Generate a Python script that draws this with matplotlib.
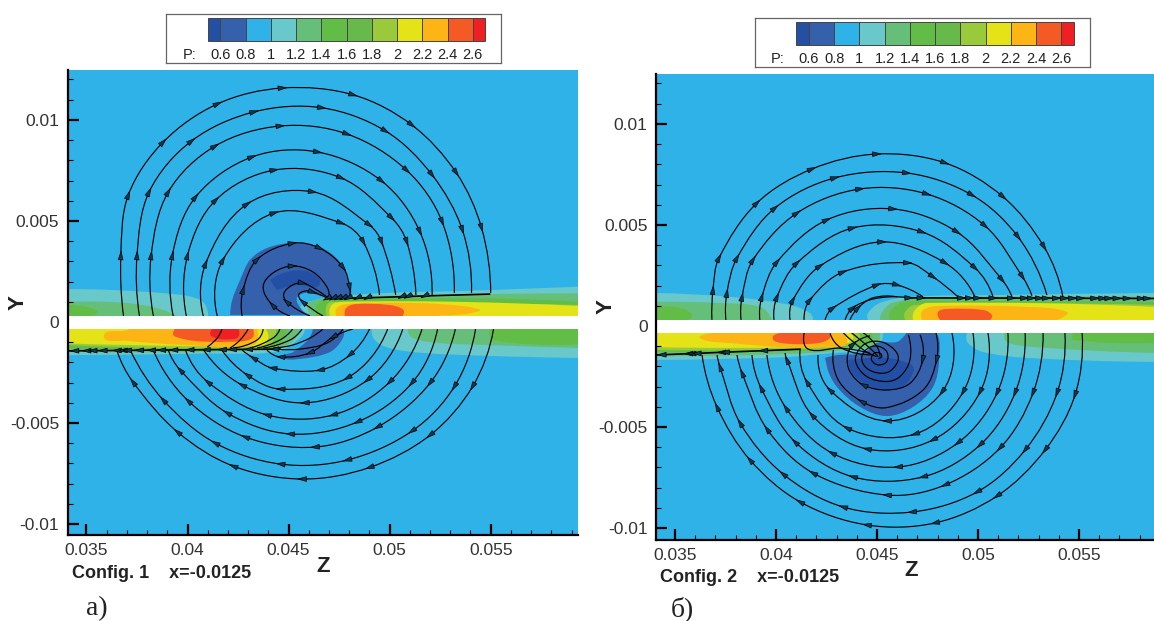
"""Pressure contours with streamlines for two configs, section x=-0.0125."""
import numpy as np
import matplotlib
matplotlib.use("Agg")
import matplotlib.pyplot as plt
from matplotlib.path import Path
from matplotlib.patches import PathPatch, Rectangle

plt.rcParams["font.family"] = ["Liberation Sans", "DejaVu Sans"]

W, H = 1154, 621
MM = 1e-3

# ── Colour scale ──────────────────────────────────────────────────────────────
P_LEVELS = [0.5, 0.6, 0.8, 1.0, 1.2, 1.4, 1.6, 1.8, 2.0, 2.2, 2.4, 2.6, 2.7]
P_COLORS = ["#234FA4", "#3560AC", "#2FB2E8", "#69C8CA", "#66BF78", "#62BD47",
            "#66B94A", "#9ACA3C", "#E3E318", "#FDB515", "#F55A24", "#EE2024"]
P_TICKS = [0.6, 0.8, 1.0, 1.2, 1.4, 1.6, 1.8, 2.0, 2.2, 2.4, 2.6]
P_LABELS = ["0.6", "0.8", "1", "1.2", "1.4", "1.6", "1.8", "2", "2.2", "2.4", "2.6"]
DARK, BLUE, BG, TEAL, GREEN1, GREEN2, GREEN3, LIME, YELLOW, ORANGE, REDOR, RED = P_COLORS

Z_TICKS = [0.035, 0.04, 0.045, 0.05, 0.055]
Z_LABELS = ["0.035", "0.04", "0.045", "0.05", "0.055"]
Y_TICKS = [-0.01, -0.005, 0, 0.005, 0.01]
Y_LABELS = ["-0.01", "-0.005", "0", "0.005", "0.01"]

# ── Config 1 contour outlines, (z, y) in mm ───────────────────────────────────
C1_UL_TEAL = [(34, 1.63), (38.65, 1.44), (40.63, 1.09), (41.02, 0.35)]
C1_UL_GREEN1 = [(34, 0.99), (37.02, 0.94), (38.65, 0.64), (39.49, 0.3)]
C1_UL_GREEN2 = [(34, 0.84), (35.05, 0.74), (35.54, 0.5), (35.3, 0.3)]
C1_UR_TEAL = [(46.06, 0.33), (45.65, 0.84), (48.03, 1.33), (54.94, 1.58), (59.4, 1.75)]
C1_UR_GREEN1 = [(46.06, 0.3), (46.06, 1), (48.36, 1.25), (54.94, 1.38), (59.4, 1.42)]
C1_UR_GREEN2 = [(46.39, 0.3), (46.39, 0.84), (46.88, 1.12), (49.18, 1.17), (54.94, 1.17), (59.4, 1)]
C1_UR_LIME = [(46.88, 0.3), (46.88, 0.84), (47.13, 1), (59.4, 0.84)]
C1_UR_YELLOW = [(47.04, 0.3), (47.13, 0.84), (47.7, 1), (53.3, 1), (59.4, 0.79)]
C1_UR_ORANGE = [(47.37, 0.3), (47.37, 0.67), (47.87, 0.89), (50, 0.95), (52.47, 0.89),
                (54.45, 0.62), (53.95, 0.42), (52.47, 0.33)]
C1_UR_REDOR = [(47.78, 0.33), (47.87, 0.72), (48.36, 0.89), (50, 0.84), (50.66, 0.62), (50.66, 0.33)]
C1_VORTEX = [(42.11, 0.35), (42.21, 1.09), (42.6, 2.08), (43.09, 3.07), (43.93, 3.66), (45.22, 3.91),
             (46.55, 3.71), (47.54, 2.97), (47.98, 1.93), (48.03, 1.34), (46.9, 1.24), (45.91, 1.44),
             (45.41, 1.19), (45.66, 0.59), (46.06, 0.35)]
C1_VORTEX_CORE = [(44.08, 2.08), (44.92, 2.48), (45.91, 2.52), (46.55, 2.08), (46.4, 1.73),
                  (45.56, 1.83), (44.92, 1.73), (44.43, 1.58)]
C1_LL_TEAL = [(34, -1.64), (41.12, -1.56), (44.41, -1.47), (45.56, -0.81), (45.81, -0.33)]
C1_LL_GREEN1 = [(34, -1.47), (43.92, -1.39), (45.07, -1.06), (45.56, -0.33)]
C1_LL_GREEN2 = [(34, -1.31), (43.59, -1.32), (44.41, -1.23), (44.91, -0.33)]
C1_LL_LIME = [(34, -1.14), (43.92, -1.26), (44.25, -0.9), (44.41, -0.33)]
C1_LL_YELLOW = [(34, -1.06), (40.3, -1.19), (43.75, -1.14), (44, -0.73), (43.84, -0.33)]
C1_LL_ORANGE = [(37.26, -0.2), (37.01, -0.4), (35.86, -0.7), (37.01, -0.93), (39.97, -1.14),
                (43.26, -1.14), (43.43, -0.33)]
C1_LL_REDOR = [(39.48, -0.2), (39.28, -0.57), (39.4, -0.73), (40.3, -0.93), (41.95, -0.98),
               (43.18, -0.81), (43.18, -0.2)]
C1_LL_RED = [(41.37, -0.2), (41.12, -0.6), (41.45, -0.81), (41.95, -0.86), (42.52, -0.73), (42.44, -0.2)]
C1_LOW_VORTEX = [(46.2, -0.35), (45.95, -0.89), (45.22, -1.49), (44.72, -1.73), (45.5, -1.83),
                 (47.04, -1.49), (47.69, -0.79), (47.69, -0.3)]
C1_LR_TEAL = [(49.12, -0.35), (49.26, -0.89), (50, -1.29), (51.63, -1.53), (54.94, -1.68), (59.4, -1.78)]
C1_LR_GREEN1 = [(50.89, -0.35), (51.14, -0.79), (52.47, -1.04), (54.94, -1.14), (59.4, -1.29)]
C1_LR_GREEN2 = [(54.94, -0.35), (55.1, -0.9), (59.4, -1.09)]

# ── Config 1 streamlines ──────────────────────────────────────────────────────
C1_TOP_ARCS = [
    [(36.83, 0.3), (36.7, 3.3), (37.07, 6.29), (38.8, 8.91), (41.5, 10.8), (44.7, 11.58), (48.2, 11.24),
     (51.1, 9.75), (53.3, 7.38), (54.55, 4.65), (55, 1.44)],
    [(37.62, 0.3), (37.5, 3.3), (38.1, 6.44), (40.2, 8.96), (43.3, 10.4), (46.65, 10.6), (49.8, 9.45),
     (52.1, 7.28), (53.6, 4.55), (54.05, 1.44)],
    [(38.31, 0.3), (38.2, 3.3), (39.05, 6.44), (41.37, 8.71), (44.6, 9.7), (47.9, 9.3), (50.85, 7.5),
     (52.6, 4.95), (53.2, 1.44)],
    [(39.29, 0.3), (39.25, 3.3), (40.4, 6.19), (43.2, 8.17), (46.45, 8.41), (49.6, 6.98), (51.5, 4.46),
     (52.1, 1.34)],
    [(39.94, 0.3), (40, 3.3), (41.4, 6.04), (44.3, 7.52), (47.6, 7.13), (50.1, 5.15), (50.85, 3.96),
     (51.3, 1.34)],
    [(40.78, 0.3), (40.9, 2.9), (42.95, 5.84), (46.2, 6.44), (49, 4.8), (49.6, 3.96), (50.3, 1.34)],
    [(41.47, 0.3), (41.75, 3.07), (44.3, 5.4), (47.6, 4.9), (48.7, 3.96), (49.5, 1.34)],
    [(42.7, 0.3), (42.75, 1.6), (43.45, 3.1), (45.2, 3.9), (46.55, 3.65), (47.7, 2.7), (48.03, 1.7), (48, 1.2)],
]
C1_INNER_ARCS = [
    [(45.07, 0.3), (44.2, 0.84), (43.74, 1.73), (44.23, 2.43), (45.2, 2.77), (46.2, 2.48), (46.9, 1.73), (47, 1.19)],
    [(46.06, 0.3), (44.9, 1), (44.77, 1.43), (45.2, 1.83), (45.7, 1.93), (46.4, 1.58), (46.95, 1.19)],
    [(46.7, 0.3), (45.7, 1), (45.5, 1.34), (45.8, 1.53), (46.2, 1.48), (46.9, 1.19)],
]
C1_BOTTOM_ARCS = [
    [(55.14, -0.35), (54.1, -3.2), (52, -5.6), (49, -7.2), (45.66, -7.77), (42.26, -7.13), (39.5, -5.44),
     (37.3, -2.97), (36.5, -1.39)],
    [(54.25, -0.35), (53.2, -3.2), (51.1, -5.4), (47.9, -6.83), (44.6, -7.03), (41.37, -5.99), (38.8, -3.86),
     (37.17, -1.39)],
    [(53.25, -0.35), (52, -3.02), (49.4, -5.2), (46.3, -6.19), (42.85, -5.69), (40.03, -3.9), (38.3, -1.39)],
    [(52.37, -0.35), (51.1, -3.02), (48.4, -4.95), (45.07, -5.54), (41.96, -4.5), (39.64, -2.38), (39.05, -1.39)],
    [(51.6, -0.35), (50, -2.97), (47.2, -4.6), (43.93, -4.6), (41, -2.97), (39.9, -1.39)],
    [(50.65, -0.35), (48.9, -2.87), (45.8, -4), (42.7, -3.12), (40.8, -1.39)],
    [(49.9, -0.35), (47.9, -2.77), (44.6, -3.32), (42.95, -2.62), (41.7, -1.39)],
    [(49, -0.35), (48.03, -1.63), (46.55, -2.38), (44.2, -2.28), (43.25, -1.78), (42.7, -1.39)],
    [(48.17, -0.35), (47.2, -0.74), (46.05, -1.53), (44.6, -1.73), (43.93, -1.39)],
]
C1_BAND_LINES = [
    [(47.69, -0.35), (46.9, -1.04), (45.56, -1.34), (44.43, -1.34)],
    [(46.7, -0.35), (46.06, -0.79), (45.2, -1.14), (44.23, -1.29)],
    [(45.66, -0.35), (45.07, -0.89), (43.74, -1.29)],
    [(45.2, -0.35), (44.57, -0.89), (43.44, -1.29)],
    [(44.57, -0.35), (44.23, -0.79), (43.1, -1.29)],
    [(43.74, -0.35), (43.44, -0.89), (42.26, -1.29)],
    [(43, -0.35), (42.6, -0.89), (42.1, -1.29)],
    [(41.7, -0.35), (41.47, -0.79), (40.97, -1.24)],
]
C1_SHELF_UP = [(46.88, 1.17), (48.94, 1.2), (52.06, 1.3), (54.94, 1.38)]
C1_SHELF_UP_ARROWS = [46.9, 47.2, 47.44, 47.7, 47.93, 48.4, 48.9, 50.6, 50.9, 51.73]
C1_SHELF_LOW = [(34, -1.43), (44.57, -1.34)]
C1_SHELF_LOW_ARROWS = [34.4, 35.0, 35.3, 35.8, 36.5, 36.8, 37.0, 37.6, 38.2, 38.7, 39.3, 40.1, 40.9,
                       41.7, 42.2, 43.0, 44.3]

# ── Config 2 contour outlines ─────────────────────────────────────────────────
C2_UL_TEAL = [(34, 1.63), (37.87, 1.43), (40.69, 1.04), (41.68, 0.64), (41.83, 0.3)]
C2_UL_GREEN1 = [(34, 1.19), (37.08, 1.14), (39.21, 0.94), (39.8, 0.3)]
C2_UL_GREEN2 = [(34, 0.94), (35.25, 0.89), (35.84, 0.54), (35.6, 0.3)]
C2_UR_TEAL = [(44.55, 0.3), (44.55, 0.64), (45.15, 1.14), (46.63, 1.44), (50.74, 1.53), (58.8, 1.63)]
C2_UR_GREEN1 = [(45.15, 0.3), (45.25, 0.69), (45.74, 1.14), (47.47, 1.39), (58.8, 1.44)]
C2_UR_GREEN2 = [(45.64, 0.3), (45.64, 0.69), (46.29, 1.19), (48.27, 1.24), (58.8, 1.19)]
C2_UR_LIME = [(46.39, 0.3), (46.39, 0.69), (46.88, 1.04), (58.8, 1.04)]
C2_UR_YELLOW = [(46.78, 0.3), (46.88, 0.79), (47.47, 1.14), (58.8, 0.94)]
C2_UR_ORANGE = [(47.23, 0.3), (47.28, 0.79), (48.12, 0.99), (52.42, 0.94), (54.4, 0.69), (53.91, 0.3)]
C2_UR_REDOR = [(48.12, 0.3), (48.02, 0.69), (48.46, 0.84), (50.25, 0.79), (50.69, 0.54), (50.6, 0.3)]
C2_LL_TEAL = [(34, -1.68), (40.36, -1.55), (42.7, -1.35), (44.9, -1.2), (45.15, -1.0), (45.3, -0.3)]
C2_LL_GREEN1 = [(34, -1.5), (41.52, -1.35), (44, -1.1), (44.98, -0.94), (45.15, -0.34)]
C2_LL_GREEN2 = [(34, -1.27), (41.52, -1.22), (43.66, -1.02), (44.65, -0.86), (44.73, -0.34)]
C2_LL_LIME = [(34, -1.19), (41.52, -1.15), (43.66, -0.94), (44.16, -0.61), (44.07, -0.34)]
C2_LL_YELLOW = [(34, -1.05), (41.52, -1.05), (43.5, -0.86), (43.83, -0.61), (43.66, -0.34)]
C2_LL_ORANGE = [(36.9, -0.34), (36.24, -0.61), (37.89, -0.86), (40.36, -1.05), (43, -1.05), (43.5, -0.86),
                (43.33, -0.34)]
C2_LL_REDOR = [(40.28, -0.34), (39.83, -0.61), (40.36, -0.86), (42.01, -0.86), (42.67, -0.61), (42.59, -0.34)]
C2_VORTEX = [(42.43, -1.58), (43.07, -1.44), (44.31, -1.34), (45, -0.84), (45.99, -0.79), (46.39, -0.45),
             (46.48, -0.3), (47.87, -0.3), (48.07, -1.68), (47.77, -3.02), (46.78, -4.01), (45.49, -4.46),
             (44.16, -4.01), (43.02, -3.02), (42.52, -2.03)]
C2_VORTEX_CORE = [(43.58, -1.68), (43.83, -2.42), (44.65, -3), (45.48, -3.2), (46.3, -3), (46.8, -2.26),
                  (46.71, -1.93), (45.64, -1.6), (44.49, -1.6)]
C2_LR_TEAL = [(49.45, -0.35), (49.5, -0.84), (50.25, -1.29), (52.42, -1.58), (58.8, -1.78)]
C2_LR_GREEN1 = [(51.29, -0.35), (51.43, -0.79), (52.72, -1.04), (58.8, -1.34)]
C2_LR_GREEN2 = [(54.7, -0.35), (54.7, -0.69), (58.8, -0.84)]

# ── Config 2 streamlines ──────────────────────────────────────────────────────
C2_TOP_ARCS = [
    [(36.83, 0.3), (36.88, 1.78), (37.18, 3.37), (39.06, 6.09), (41.78, 7.77), (45, 8.51), (48.37, 8.07),
     (51.24, 6.39), (53.27, 3.91), (54.2, 1.44)],
    [(37.52, 0.3), (37.57, 1.63), (38.07, 3.37), (39.95, 5.84), (42.92, 7.33), (46.48, 7.57), (49.7, 6.48),
     (51.98, 4.41), (53.41, 1.53)],
    [(38.27, 0.3), (38.32, 1.44), (38.86, 3.27), (41.04, 5.59), (44.16, 6.78), (47.47, 6.53), (50.35, 4.95),
     (52.2, 2.43), (52.67, 1.49)],
    [(39.2, 0.3), (39.3, 1.44), (40.05, 3.17), (42.52, 5.25), (45.8, 5.79), (48.96, 4.65), (51.19, 2.28),
     (51.68, 1.44)],
    [(39.9, 0.3), (40.05, 1.44), (41.04, 3.12), (43.8, 4.85), (47.23, 4.65), (49.85, 2.87), (50.74, 1.44)],
    [(40.7, 0.3), (40.84, 1.29), (42.18, 2.97), (45.25, 4.16), (48.37, 3.12), (49.85, 1.44)],
    [(41.39, 0.3), (41.68, 1.29), (43.32, 2.67), (46.53, 3.12), (47.77, 2.43), (49, 1.44)],
    [(42.43, 0.3), (42.82, 0.89), (45, 2.03), (45.99, 2.03), (47.28, 1.44)],
]
C2_INNER_ARCS = [
    [(43.42, 0.3), (43.8, 0.89), (44.65, 1.29), (45.64, 1.44), (46.63, 1.39)],
    [(43.66, 0.3), (44.06, 0.89), (44.8, 1.39), (45.99, 1.44)],
]
C2_BOTTOM_ARCS = [
    [(55.15, -0.35), (54.8, -3.42), (53.32, -6.14), (50.94, -8.42), (47.87, -9.75), (44.5, -9.85),
     (41.19, -8.71), (38.71, -6.63), (37.08, -4.01), (36.34, -1.44)],
    [(54.3, -0.35), (53.91, -3.32), (52.33, -6.14), (49.95, -8.22), (46.73, -9.21), (43.32, -8.96),
     (40.35, -7.33), (38.22, -4.8), (37.23, -2.03), (37.08, -1.44)],
    [(53.22, -0.35), (52.72, -3.32), (51.09, -6.04), (48.37, -7.87), (45.49, -8.37), (41.83, -7.28),
     (39.55, -5.1), (38.32, -2.33), (38.07, -1.44)],
    [(52.33, -0.35), (51.83, -3.32), (50.1, -5.89), (47.28, -7.47), (43.81, -7.47), (40.94, -5.74),
     (39.26, -3.07), (38.81, -1.44)],
    [(51.48, -0.35), (50.94, -3.32), (49, -5.79), (46.04, -6.98), (42.77, -6.29), (40.49, -4.06), (39.55, -1.44)],
    [(50.49, -0.35), (50.1, -3.27), (47.77, -5.64), (44.5, -6.09), (41.78, -4.41), (40.54, -1.68), (40.45, -1.34)],
    [(49.75, -0.35), (49.26, -3.27), (46.88, -5.35), (43.51, -5.05), (41.53, -2.77), (41.19, -1.19)],
    [(48.71, -0.35), (48.22, -3.27), (45.49, -4.7), (42.67, -3.17), (42.08, -1.44)],
]
C2_SPIRAL_OUTER = [(47.92, -0.35), (47.95, -1.68), (47.29, -3.16), (45.48, -4.04), (44.24, -3.74),
                   (43.08, -2.67), (42.84, -1.18)]
C2_SPIRAL_MID = [(47.13, -0.44), (47.26, -1.68), (46.63, -2.84), (45.48, -3.17), (44.32, -2.92), (43.66, -2.26),
                 (43.53, -1.52), (43.83, -0.89), (44.65, -0.49)]
C2_SPIRAL_IN = [(46.55, -0.44), (46.63, -1.68), (46.14, -2.5), (45.48, -2.75), (44.49, -2.5), (43.94, -1.76),
                (44.16, -1.1), (44.73, -0.77), (45.48, -0.89), (46.05, -1.52), (45.72, -2.18), (45.15, -2.34),
                (44.49, -2.09), (44.24, -1.6), (44.49, -1.15), (44.98, -0.99), (45.48, -1.27), (45.48, -1.76),
                (45.06, -1.93), (44.73, -1.68), (44.86, -1.35), (45.15, -1.35), (45.23, -1.52), (45.06, -1.6)]
C2_BAND_LINES = [
    [(41.4, -0.34), (41.6, -1.15), (43.17, -1.1), (44.65, -1.35)],
    [(42.67, -0.34), (43.25, -1.1), (44.82, -1.43)],
    [(43.33, -0.34), (44.32, -1.18), (44.98, -1.52)],
    [(43.74, -0.34), (44.65, -1.1), (45.06, -1.52)],
    [(44.32, -0.34), (44.98, -1), (45.15, -1.52)],
]
C2_SHELF_UP = [(46.63, 1.39), (58.8, 1.36)]
C2_SHELF_UP_ARROWS = [46.6, 47.2, 49.2, 49.6, 50, 50.76, 51.67, 52.33, 52.66, 53.07, 53.4, 53.9, 54.3, 54.7, 55.1,
                      55.8, 56.2, 56.5, 56.9, 57.4, 58.1, 58.4]
C2_SHELF_LOW = [(34, -1.44), (41.19, -1.15)]
C2_SHELF_LOW_ARROWS = [34.34, 35.66, 35.82, 36.07, 37.3, 37.47, 39.37]


def px_rect(left, top, right, bottom):
    return [left / W, 1 - bottom / H, (right - left) / W, (bottom - top) / H]


def unit(v):
    return v / np.hypot(v[0], v[1])


def smooth_path(xy):
    """Bezier through the read points, handle length follows the chord."""
    n = len(xy)
    tangents = [None] * n
    for i in range(1, n - 1):
        tangents[i] = unit(xy[i + 1] - xy[i - 1])
    if n > 2:
        # free ends bend the same way as their neighbours
        tangents[0] = unit(2 * unit(xy[1] - xy[0]) - tangents[1])
        tangents[-1] = unit(2 * unit(xy[-1] - xy[-2]) - tangents[-2])
    else:
        tangents[0] = tangents[-1] = unit(xy[1] - xy[0])
    verts = [xy[0]]
    for i in range(n - 1):
        chord = np.hypot(*(xy[i + 1] - xy[i]))
        verts += [xy[i] + tangents[i] * chord / 3, xy[i + 1] - tangents[i + 1] * chord / 3, xy[i + 1]]
    codes = [Path.MOVETO] + [Path.CURVE4] * (3 * (n - 1))
    return Path(verts, codes)


def fill_layers(ax, layers, closed=False):
    for color, pts in layers:
        xy = np.array(pts) * MM
        path = smooth_path(xy)
        verts = list(path.vertices)
        codes = list(path.codes)
        if not closed:
            # band outlines run back to the plate on y=0
            verts += [(xy[-1, 0], 0), (xy[0, 0], 0)]
            codes += [Path.LINETO, Path.LINETO]
        verts.append(verts[0])
        codes.append(Path.CLOSEPOLY)
        ax.add_patch(PathPatch(Path(verts, codes), fc=color, ec="none", lw=0, zorder=1))


def add_arrow(ax, x, y, dx, dy):
    length = np.hypot(dx, dy)
    ux, uy = dx / length * 0.25 * MM, dy / length * 0.25 * MM
    ax.annotate("", xy=(x + ux, y + uy), xytext=(x - ux, y - uy), zorder=4,
                arrowprops=dict(arrowstyle="-|>,head_width=0.2,head_length=0.7", mutation_scale=8.5,
                                fc="#0E3A55", ec="black", lw=0.5, shrinkA=0, shrinkB=0))


def draw_stream(ax, pts, arrow_step=1):
    xy = np.array(pts) * MM
    ax.add_patch(PathPatch(smooth_path(xy), fill=False, ec="black", lw=0.85, zorder=2))
    if arrow_step:
        for i in range(1, len(xy) - 1, arrow_step):
            d = xy[i + 1] - xy[i - 1]
            add_arrow(ax, xy[i, 0], xy[i, 1], d[0], d[1])


def draw_shelf(ax, pts, arrow_z, direction):
    xy = np.array(pts) * MM
    ax.plot(xy[:, 0], xy[:, 1], color="black", lw=1.2, zorder=2)
    for z in arrow_z:
        add_arrow(ax, z * MM, np.interp(z * MM, xy[:, 0], xy[:, 1]), direction[0], direction[1])


def style_axis(ax, xlim, ylim, band):
    ax.set_facecolor(BG)
    ax.add_patch(Rectangle((xlim[0], band[0]), xlim[1] - xlim[0], band[1] - band[0], fc="white", ec="none", zorder=3))
    for s in ["top", "right"]:
        ax.spines[s].set_visible(False)
    for s in ["left", "bottom"]:
        ax.spines[s].set_linewidth(1.6)
        ax.spines[s].set_zorder(6)
    ax.set_xticks(Z_TICKS)
    ax.set_xticklabels(Z_LABELS)
    ax.set_yticks(Y_TICKS)
    ax.set_yticklabels(Y_LABELS)
    ax.set_xticks(np.arange(35, 60) * MM, minor=True)
    ax.set_yticks(np.arange(-10, 13) * MM, minor=True)
    ax.tick_params(which="major", direction="in", length=8, width=1.6, labelsize=12.5,
                   labelcolor="#333333", pad=6, zorder=6)
    ax.tick_params(which="minor", direction="in", length=3.5, width=0.8, zorder=6)
    # limits go last, set_xticks widens the view otherwise
    ax.set_xlim(xlim)
    ax.set_ylim(ylim)


def draw_colorbar(fig, left, top):
    ax = fig.add_axes(px_rect(left, top, left + 335, top + 49))
    ax.set_xlim(0.169, 2.824)
    ax.set_ylim(0, 1)
    ax.set_xticks([])
    ax.set_yticks([])
    for s in ax.spines.values():
        s.set_linewidth(0.9)
        s.set_edgecolor("#666666")
    widths = np.diff(P_LEVELS)
    ax.bar(P_LEVELS[:-1], [0.47] * len(widths), width=widths, bottom=0.43, align="edge",
           color=P_COLORS, edgecolor="#444444", linewidth=0.7)
    for tick, label in zip(P_TICKS, P_LABELS):
        ax.text(tick, 0.16, label, ha="center", va="center", fontsize=10.5, color="#222222")
    ax.text(0.355, 0.16, "P:", ha="center", va="center", fontsize=10.5, color="#222222")


def fig_text(fig, px, py, s, **kw):
    fig.text(px / W, 1 - py / H, s, **kw)


def main():
    fig = plt.figure(figsize=(W / 100, H / 100), dpi=100)

    # ── Config 1 ──────────────────────────────────────────────────────────────
    ax1 = fig.add_axes(px_rect(67.5, 70, 578, 535))
    fill_layers(ax1, [(TEAL, C1_UL_TEAL), (GREEN1, C1_UL_GREEN1), (GREEN2, C1_UL_GREEN2),
                      (TEAL, C1_UR_TEAL), (GREEN1, C1_UR_GREEN1), (GREEN2, C1_UR_GREEN2),
                      (LIME, C1_UR_LIME), (YELLOW, C1_UR_YELLOW), (ORANGE, C1_UR_ORANGE), (REDOR, C1_UR_REDOR),
                      (TEAL, C1_LL_TEAL), (GREEN1, C1_LL_GREEN1), (GREEN2, C1_LL_GREEN2), (LIME, C1_LL_LIME),
                      (YELLOW, C1_LL_YELLOW), (ORANGE, C1_LL_ORANGE), (REDOR, C1_LL_REDOR), (RED, C1_LL_RED),
                      (TEAL, C1_LR_TEAL), (GREEN1, C1_LR_GREEN1), (GREEN2, C1_LR_GREEN2)])
    fill_layers(ax1, [(BLUE, C1_VORTEX), (DARK, C1_VORTEX_CORE), (BLUE, C1_LOW_VORTEX)], closed=True)
    for arc in C1_TOP_ARCS + C1_BOTTOM_ARCS:
        draw_stream(ax1, arc)
    for arc in C1_INNER_ARCS:
        draw_stream(ax1, arc, arrow_step=3)
    for line in C1_BAND_LINES:
        draw_stream(ax1, line, arrow_step=0)
    draw_shelf(ax1, C1_SHELF_UP, C1_SHELF_UP_ARROWS, (-1, -0.5))
    draw_shelf(ax1, C1_SHELF_LOW, C1_SHELF_LOW_ARROWS, (-1, 0))
    style_axis(ax1, (0.03406, 0.05932), (-0.01054, 0.01247), (-0.00035, 0.0003))
    draw_colorbar(fig, 166, 13.5)

    # ── Config 2 ──────────────────────────────────────────────────────────────
    ax2 = fig.add_axes(px_rect(656, 74, 1154, 539.5))
    fill_layers(ax2, [(TEAL, C2_UL_TEAL), (GREEN1, C2_UL_GREEN1), (GREEN2, C2_UL_GREEN2),
                      (TEAL, C2_UR_TEAL), (GREEN1, C2_UR_GREEN1), (GREEN2, C2_UR_GREEN2),
                      (LIME, C2_UR_LIME), (YELLOW, C2_UR_YELLOW), (ORANGE, C2_UR_ORANGE), (REDOR, C2_UR_REDOR),
                      (TEAL, C2_LL_TEAL), (GREEN1, C2_LL_GREEN1), (GREEN2, C2_LL_GREEN2), (LIME, C2_LL_LIME),
                      (YELLOW, C2_LL_YELLOW), (ORANGE, C2_LL_ORANGE), (REDOR, C2_LL_REDOR),
                      (TEAL, C2_LR_TEAL), (GREEN1, C2_LR_GREEN1), (GREEN2, C2_LR_GREEN2)])
    fill_layers(ax2, [(BLUE, C2_VORTEX), (DARK, C2_VORTEX_CORE)], closed=True)
    for arc in C2_TOP_ARCS + C2_BOTTOM_ARCS:
        draw_stream(ax2, arc)
    for arc in C2_INNER_ARCS + [C2_SPIRAL_OUTER, C2_SPIRAL_MID]:
        draw_stream(ax2, arc, arrow_step=3)
    draw_stream(ax2, C2_SPIRAL_IN, arrow_step=0)
    for line in C2_BAND_LINES:
        draw_stream(ax2, line, arrow_step=0)
    draw_shelf(ax2, C2_SHELF_UP, C2_SHELF_UP_ARROWS, (1, 0))
    draw_shelf(ax2, C2_SHELF_LOW, C2_SHELF_LOW_ARROWS, (-1, 0))
    style_axis(ax2, (0.03406, 0.05871), (-0.01057, 0.01247), (-0.00035, 0.0003))
    draw_colorbar(fig, 754.5, 17.5)

    # ── Captions ──────────────────────────────────────────────────────────────
    bold = dict(fontweight="bold", color="#222222")
    fig_text(fig, 72, 574, "Config. 1    x=-0.0125", fontsize=13, va="center", ha="left", **bold)
    fig_text(fig, 660, 578, "Config. 2    x=-0.0125", fontsize=13, va="center", ha="left", **bold)
    fig_text(fig, 323, 567, "Z", fontsize=16, va="center", ha="center", **bold)
    fig_text(fig, 911, 571, "Z", fontsize=16, va="center", ha="center", **bold)
    fig_text(fig, 18, 303, "Y", fontsize=16, va="center", ha="center", rotation=90, **bold)
    fig_text(fig, 606, 307, "Y", fontsize=16, va="center", ha="center", rotation=90, **bold)
    serif = ["Liberation Serif", "DejaVu Serif"]
    fig_text(fig, 97, 609, "а)", fontsize=20, family=serif, va="center", ha="center", color="#222222")
    fig_text(fig, 682, 609, "б)", fontsize=20, family=serif, va="center", ha="center", color="#222222")

    fig.savefig("out.png", dpi=100)
    plt.close(fig)


if __name__ == "__main__":
    main()
